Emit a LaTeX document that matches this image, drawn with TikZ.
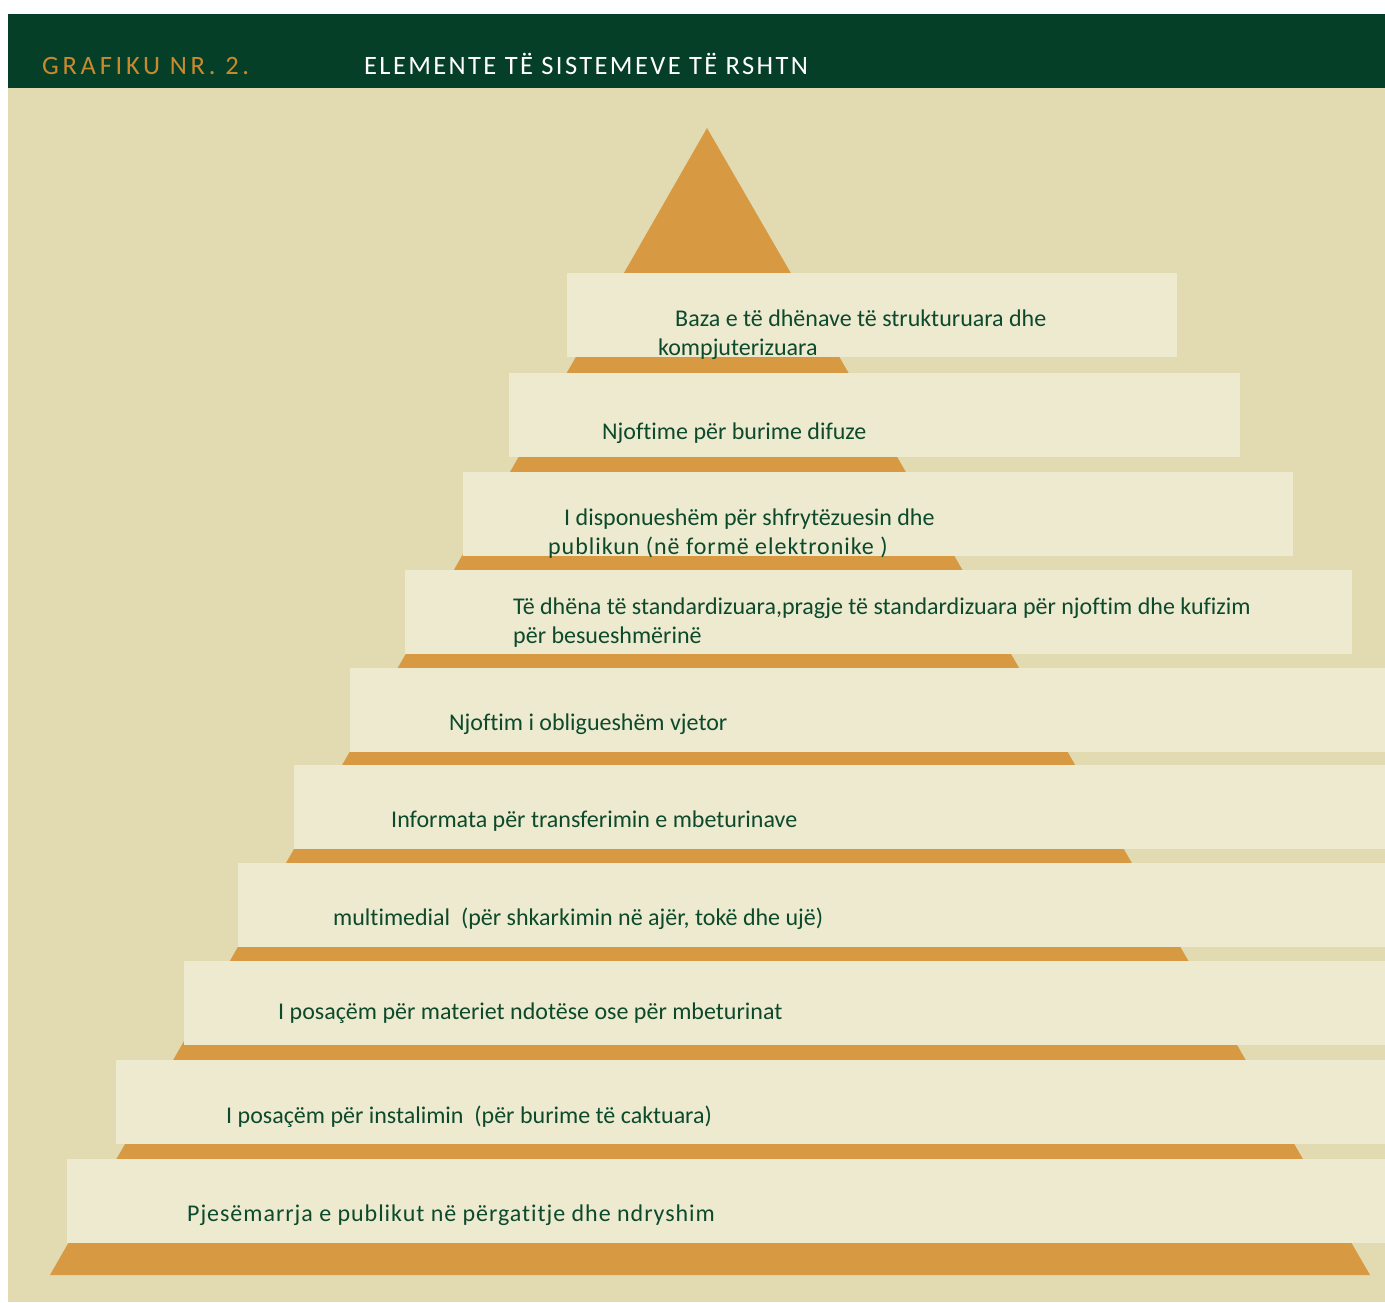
\documentclass[tikz,border=0pt]{standalone}
\usepackage{fontspec}
\setmainfont{Carlito}[Ligatures=NoCommon]
\usetikzlibrary{positioning}

\definecolor{headgreen}{HTML}{053F28}
\definecolor{headgold}{HTML}{C98A2E}
\definecolor{sand}{HTML}{E2DBB2}
\definecolor{cream}{HTML}{EDEAD0}
\definecolor{ochre}{HTML}{D79A42}
\definecolor{ink}{HTML}{0D4A2B}

\begin{document}
\begin{tikzpicture}[x=1pt,y=-1pt]
   \tikzset{level/.style = {rectangle, fill=cream, anchor=north west, inner sep=0pt, minimum height=84pt}, }
   \tikzset{itemtext/.style = {anchor=base west, inner sep=0pt, text=ink, font=\fontsize{24}{29}\selectfont}, }
   \tikzset{spaced/.style = {font=\fontsize{24}{29}\selectfont\addfontfeature{LetterSpace=4}}, }
   \tikzset{headtext/.style = {anchor=base west, inner sep=0pt, font=\fontsize{26.5}{30}\selectfont\addfontfeature{LetterSpace=9}}, }

   % page and header
   \useasboundingbox (0,0) rectangle (1385,1302);
   \fill[white] (0,0) rectangle (1385,1302);
   \fill[sand] (8,88) rectangle (1385,1302);
   \fill[headgreen] (8,14) rectangle (1385,88);
   \node[headtext, text=headgold, font=\fontsize{26.5}{30}\selectfont\addfontfeature{LetterSpace=14}] (nr) at (42,74) {GRAFIKU NR. 2.};
   \node[headtext, text=white] (title) at (364,74) {ELEMENTE TË SISTEMEVE TË RSHTN};

   % pyramid behind the levels
   \coordinate (apex) at (707,128);
   \coordinate (baseL) at (50,1275);
   \coordinate (baseR) at (1370,1275);
   \fill[ochre] (apex) -- (baseR) -- (baseL) -- cycle;

   % levels, top to bottom
   \node[level, minimum width=610pt] (L1) at (567,273) {};
   \node[level, minimum width=731pt] (L2) at (509,373) {};
   \node[level, minimum width=830pt] (L3) at (463,472) {};
   \node[level, minimum width=947pt] (L4) at (405,570) {};
   \node[level, minimum width=1035pt] (L5) at (350,668) {};
   \node[level, minimum width=1091pt] (L6) at (294,765) {};
   \node[level, minimum width=1147pt] (L7) at (238,863) {};
   \node[level, minimum width=1201pt] (L8) at (184,961) {};
   \node[level, minimum width=1269pt] (L9) at (116,1060) {};
   \node[level, minimum width=1318pt] (L10) at (67,1159) {};

   \node[itemtext] (T1a) at (675,326) {Baza e të dhënave të strukturuara dhe};
   \node[itemtext] (T1b) at (658,355) {kompjuterizuara};
   \node[itemtext] (T2) at (602,439) {Njoftime për burime difuze};
   \node[itemtext] (T3a) at (564,525) {I disponueshëm për shfrytëzuesin dhe};
   \node[itemtext, spaced] (T3b) at (548,554) {publikun (në formë elektronike )};
   \node[itemtext] (T4a) at (513,614) {Të dhëna të standardizuara,pragje të standardizuara për njoftim dhe kufizim};
   \node[itemtext] (T4b) at (513,643) {për besueshmërinë};
   \node[itemtext] (T5) at (449,730) {Njoftim i obligueshëm vjetor};
   \node[itemtext] (T6) at (391,827) {Informata për transferimin e mbeturinave};
   \node[itemtext] (T7) at (333,925) {multimedial\ \ (për shkarkimin në ajër, tokë dhe ujë)};
   \node[itemtext] (T8) at (278,1019) {I posaçëm për materiet ndotëse ose për mbeturinat};
   \node[itemtext] (T9) at (226,1123) {I posaçëm për instalimin\ \ (për burime të caktuara)};
   \node[itemtext, spaced] (T10) at (187,1221) {Pjesëmarrja e publikut në përgatitje dhe ndryshim};

\end{tikzpicture}
\end{document}
